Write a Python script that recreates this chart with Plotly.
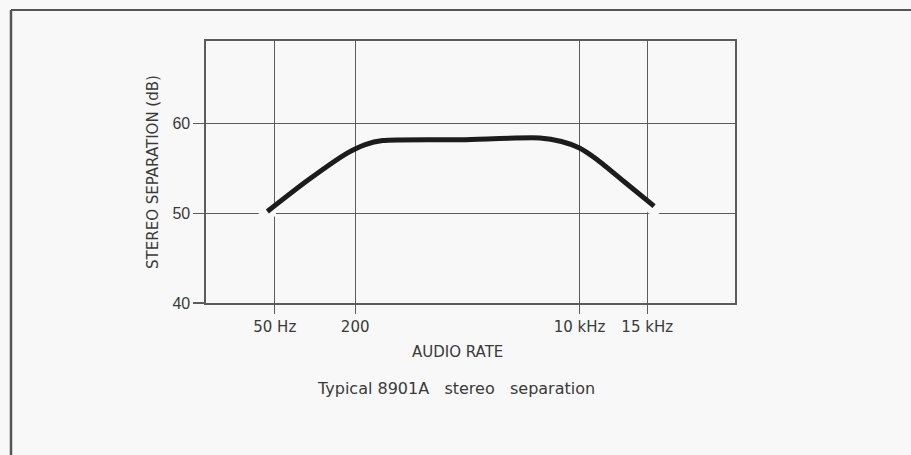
import plotly.graph_objects as go

# Axis tick positions (schematic, position units across the plot box 0..100)
tick_labels = ["50 Hz", "200", "10 kHz", "15 kHz"]
tick_positions = [13.0, 28.2, 70.6, 83.4]

# Curve (x in the same position units, y in dB)
curve_x = [11.6, 19.3, 26.7, 30.1, 33.4, 48.3, 63.1, 67.2, 70.5, 73.9, 79.3, 84.7]
curve_db = [50.2, 53.7, 56.7, 57.65, 58.1, 58.2, 58.4, 58.0, 57.3, 56.0, 53.4, 50.8]

y_ticks = [40, 50, 60]

BG = "#f8f8f8"
GRID = "#5c5c5c"
TXT = "#3a3a3a"

fig = go.Figure()

# white halo at curve endpoints (gaps in the gridline)
fig.add_trace(go.Scatter(
    x=[curve_x[0], curve_x[-1]], y=[curve_db[0], curve_db[-1]],
    mode="markers", marker=dict(color=BG, size=18, line=dict(width=0)),
    hoverinfo="skip", showlegend=False))

fig.add_trace(go.Scatter(
    x=curve_x, y=curve_db, mode="lines",
    line=dict(color="#1c1c1c", width=5, shape="spline", smoothing=0.7),
    showlegend=False))

fig.update_layout(
    width=911, height=455,
    margin=dict(l=206, r=176, t=41, b=152),
    paper_bgcolor=BG, plot_bgcolor=BG,
    font=dict(family="DejaVu Sans", color=TXT, size=14),
    xaxis=dict(
        range=[0, 100], tickmode="array", tickvals=tick_positions, ticktext=tick_labels,
        showgrid=True, gridcolor=GRID, gridwidth=1.3,
        showline=True, mirror=True, linecolor=GRID, linewidth=1.6,
        ticks="outside", ticklen=9, tickcolor=GRID, tickwidth=1.3,
        tickfont=dict(family="DejaVu Sans", size=15, color=TXT),
        zeroline=False, fixedrange=True,
    ),
    yaxis=dict(
        range=[40, 69.2], tickmode="array", tickvals=y_ticks,
        showgrid=True, gridcolor=GRID, gridwidth=1.3,
        showline=True, mirror=True, linecolor=GRID, linewidth=1.6,
        ticks="outside", ticklen=11, tickcolor=GRID, tickwidth=1.3,
        tickfont=dict(family="Liberation Sans Narrow, Liberation Sans", size=16, color=TXT),
        title=dict(text="STEREO SEPARATION (dB)", standoff=10,
                   font=dict(family="DejaVu Sans", size=15, color=TXT)),
        zeroline=False, fixedrange=True,
    ),
    annotations=[
        dict(text="AUDIO RATE", xref="paper", yref="paper", x=0.4745, y=-0.187,
             showarrow=False, xanchor="center", yanchor="middle",
             font=dict(family="DejaVu Sans", size=15, color=TXT)),
        dict(text="Typical 8901A   stereo   separation", xref="paper", yref="paper",
             x=0.4735, y=-0.328, showarrow=False, xanchor="center", yanchor="middle",
             font=dict(family="DejaVu Sans", size=16, color=TXT)),
    ],
    shapes=[
        # outer frame (top and left edges of the scanned panel)
        dict(type="line", xref="paper", yref="paper",
             x0=(11 - 206) / 529, x1=(911 - 206) / 529,
             y0=(303 - 10) / 262, y1=(303 - 10) / 262,
             line=dict(color="#555555", width=2)),
        dict(type="line", xref="paper", yref="paper",
             x0=(11 - 206) / 529, x1=(11 - 206) / 529,
             y0=(303 - 10) / 262, y1=(303 - 455) / 262,
             line=dict(color="#555555", width=2.5)),
    ],
)

fig.write_html(
    "out.html",
    config={"displayModeBar": False, "staticPlot": True},
    post_script="document.body.style.margin='0';document.body.style.background='%s';" % BG,
)
